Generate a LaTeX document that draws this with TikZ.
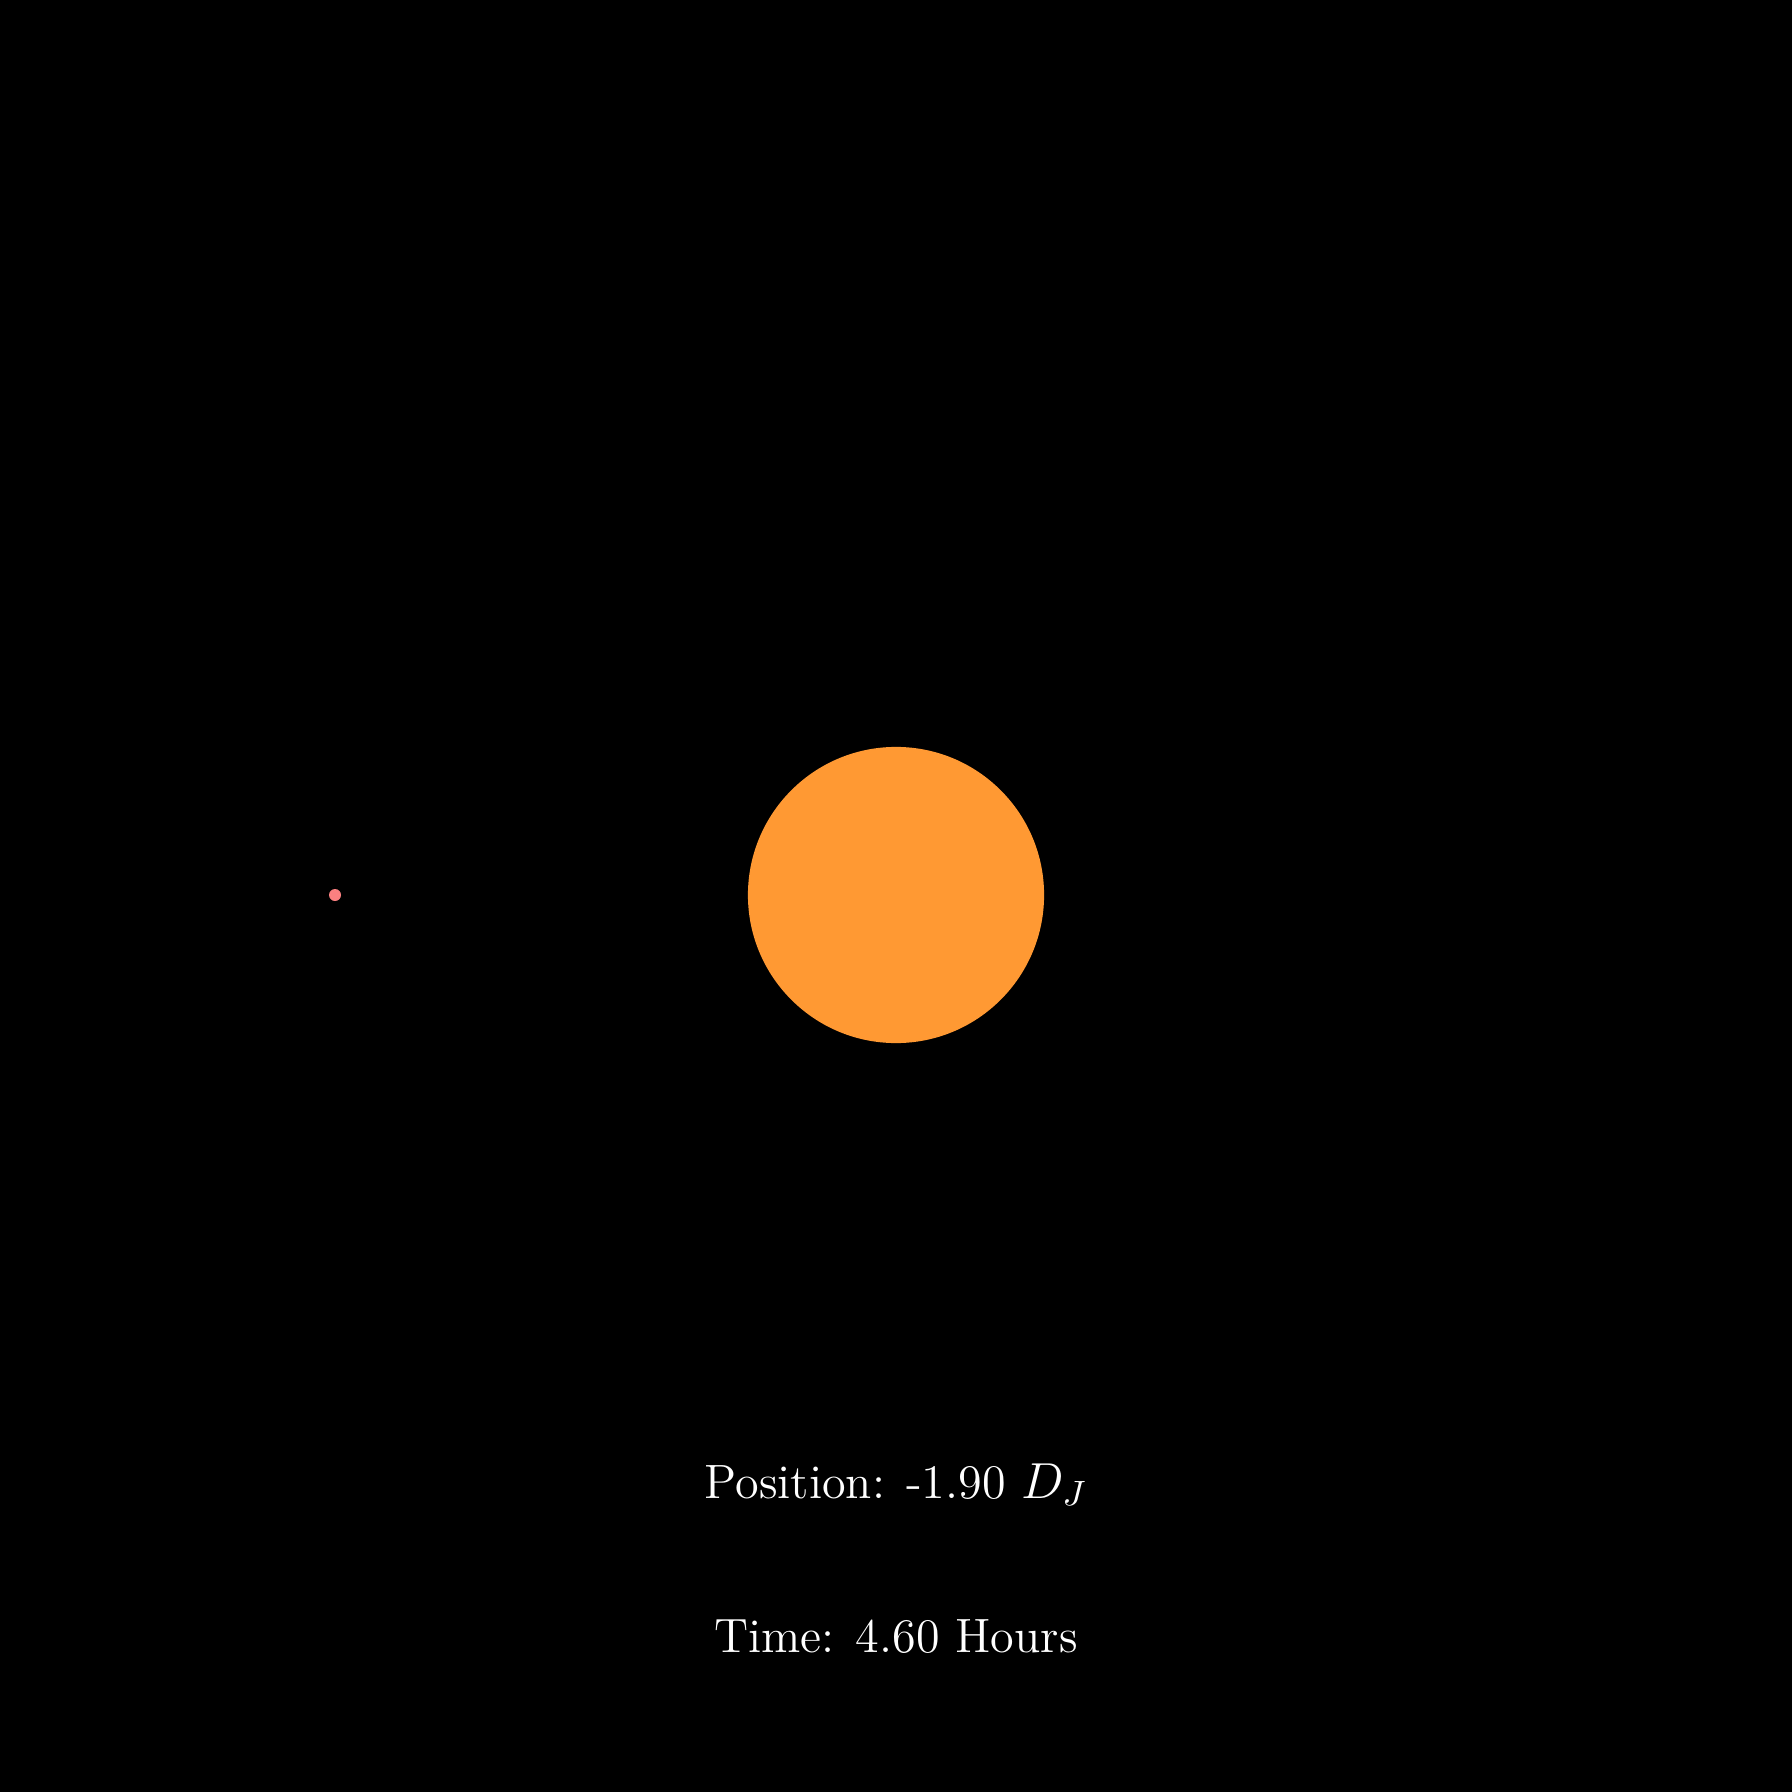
\documentclass[tikz,border=0pt]{standalone}
\definecolor{sunorange}{RGB}{255,153,51}
\definecolor{planetred}{RGB}{250,128,128}
\begin{document}
\begin{tikzpicture}[x=0.01cm,y=-0.01cm,
  label/.style={text=white,anchor=base,inner sep=0pt,font=\fontsize{13.7}{16}\selectfont}]
\fill[black] (0,0) rectangle (1792,1792);
\useasboundingbox (0,0) rectangle (1792,1792);
\fill[sunorange] (896,895) circle[radius=1.48cm];
\fill[planetred] (335,895) circle[radius=0.06cm];
\node[label] (pos) at (896,1498) {Position: -1.90 $D_J$};
\node[label] (time) at (896,1652) {Time: 4.60 Hours};
\end{tikzpicture}
\end{document}
